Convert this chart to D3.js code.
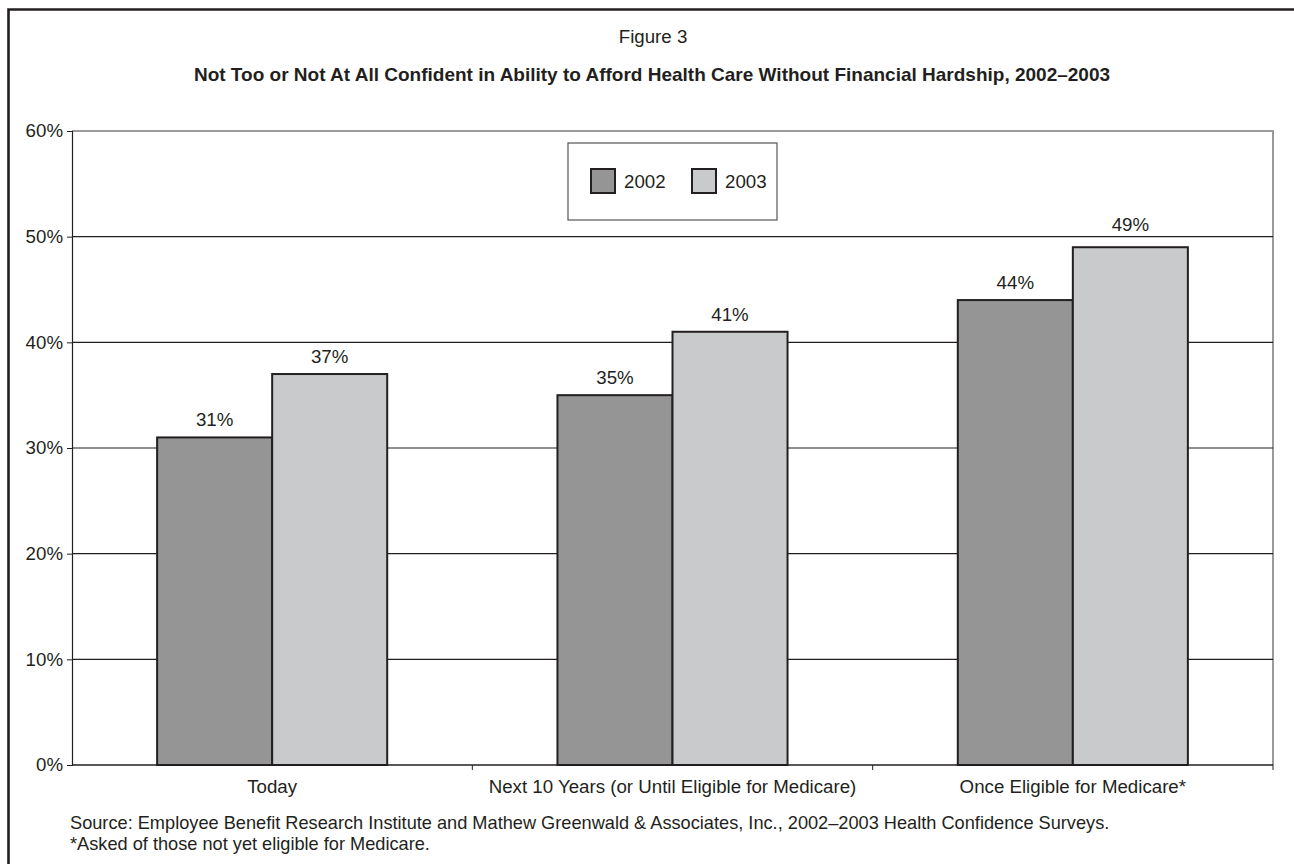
<!DOCTYPE html>
<html>
<head>
<meta charset="utf-8">
<script src="https://cdn.jsdelivr.net/npm/d3@7"></script>
<style>
  html, body { margin: 0; padding: 0; background: #fff; }
  svg { display: block; font-family: "Liberation Sans", Arial, Helvetica, sans-serif; }
</style>
</head>
<body>
<svg id="chart" width="1294" height="864"></svg>
<script>
// Survey data
const categories = ["Today", "Next 10 Years (or Until Eligible for Medicare)", "Once Eligible for Medicare*"];
const seriesNames = ["2002", "2003"];
const values2002 = [31, 35, 44];
const values2003 = [37, 41, 49];
const yTicks = [0, 10, 20, 30, 40, 50, 60];
const seriesColors = ["#959596", "#c9cacc"];

const figureLabel = "Figure 3";
const titleText = "Not Too or Not At All Confident in Ability to Afford Health Care Without Financial Hardship, 2002\u20132003";
const sourceLines = [
  "Source: Employee Benefit Research Institute and Mathew Greenwald & Associates, Inc., 2002\u20132003 Health Confidence Surveys.",
  "*Asked of those not yet eligible for Medicare."
];

const FS = 18.7;       // body text size
const ink = "#231f20";

const svg = d3.select("#chart");
const W = 1294, H = 864;
const plot = { left: 72, right: 1273, top: 131, bottom: 765 };

// Outer frame (runs off the right and bottom edges)
svg.append("path")
  .attr("d", `M8.5,${H + 5} V9.5 H${W + 5}`)
  .attr("fill", "none").attr("stroke", ink).attr("stroke-width", 2.6);

// Headings
svg.append("text").attr("x", 653).attr("y", 43).attr("text-anchor", "middle")
  .attr("font-size", FS).attr("fill", ink).text(figureLabel);
svg.append("text").attr("x", 652).attr("y", 81).attr("text-anchor", "middle")
  .attr("font-size", 19).attr("font-weight", "bold").attr("fill", ink).text(titleText);

// Scales
const x0 = d3.scaleBand().domain(categories).range([plot.left, plot.right]).paddingInner(0).paddingOuter(0);
const x1 = d3.scaleBand().domain(seriesNames).range([0, x0.bandwidth()]).paddingInner(0).paddingOuter(0.74);
const y = d3.scaleLinear().domain([0, 60]).range([plot.bottom, plot.top]);

// Plot frame: top and right edges in grey
svg.append("path")
  .attr("d", `M${plot.left},${y(60)} H${plot.right} V${plot.bottom}`)
  .attr("fill", "none").attr("stroke", "#9a9a9a").attr("stroke-width", 2);

// Gridlines
svg.append("g").selectAll("line").data(yTicks.filter(t => t > 0 && t < 60)).join("line")
  .attr("x1", plot.left).attr("x2", plot.right)
  .attr("y1", d => y(d)).attr("y2", d => y(d))
  .attr("stroke", ink).attr("stroke-width", 1.1);

// Y axis
const yAxis = svg.append("g").attr("transform", `translate(${plot.left},0)`)
  .call(d3.axisLeft(y).tickValues(yTicks).tickFormat(d => d + "%").tickSize(5).tickPadding(4));
yAxis.select(".domain").attr("stroke", ink).attr("stroke-width", 1.2);
yAxis.selectAll(".tick line").attr("stroke", ink);
yAxis.selectAll(".tick text").attr("font-size", FS).attr("fill", ink)
  .attr("font-family", "Liberation Sans, Arial, sans-serif");

// Bars
const rows = categories.map((c, i) => ({ cat: c, vals: [values2002[i], values2003[i]] }));
const groups = svg.append("g").selectAll("g").data(rows).join("g")
  .attr("transform", d => `translate(${x0(d.cat)},0)`);
groups.selectAll("rect").data(d => d.vals.map((v, j) => ({ s: seriesNames[j], v, j }))).join("rect")
  .attr("x", d => x1(d.s)).attr("width", x1.bandwidth())
  .attr("y", d => y(d.v)).attr("height", d => y(0) - y(d.v))
  .attr("fill", d => seriesColors[d.j]).attr("stroke", ink).attr("stroke-width", 2);

// Value labels, nudged above a gridline when they would sit on it
const gridVals = yTicks.map(t => y(t));
groups.selectAll("text.val").data(d => d.vals.map((v, j) => ({ s: seriesNames[j], v, j }))).join("text")
  .attr("class", "val")
  .attr("x", d => x1(d.s) + x1.bandwidth() / 2)
  .attr("y", d => {
    let base = y(d.v) - 11;
    for (const g of gridVals) {
      if (g > base - 14 && g < base + 4) base = g - 6;
    }
    return base;
  })
  .attr("text-anchor", "middle").attr("font-size", FS).attr("fill", ink)
  .text(d => d.v + "%");

// X axis
const xAxis = svg.append("g").attr("transform", `translate(0,${plot.bottom})`);
xAxis.append("line").attr("x1", plot.left).attr("x2", plot.right)
  .attr("stroke", ink).attr("stroke-width", 1.5);
const boundaries = categories.map(c => x0(c)).concat([plot.right]);
xAxis.selectAll("line.tk").data(boundaries.slice(1)).join("line").attr("class", "tk")
  .attr("x1", d => d).attr("x2", d => d).attr("y1", 0).attr("y2", 5)
  .attr("stroke", ink).attr("stroke-width", 1);
xAxis.selectAll("text").data(categories).join("text")
  .attr("x", d => x0(d) + x0.bandwidth() / 2).attr("y", 28)
  .attr("text-anchor", "middle").attr("font-size", FS).attr("fill", ink)
  .text(d => d);

// Legend
const legend = svg.append("g").attr("transform", "translate(568,143)");
legend.append("rect").attr("x", 0).attr("y", 0).attr("width", 209).attr("height", 77)
  .attr("fill", "#fff").attr("stroke", "#555").attr("stroke-width", 1.2);
const legendItems = legend.selectAll("g").data(seriesNames).join("g")
  .attr("transform", (d, i) => `translate(${23 + i * 101},26)`);
legendItems.append("rect").attr("width", 24).attr("height", 24)
  .attr("fill", (d, i) => seriesColors[i]).attr("stroke", ink).attr("stroke-width", 2);
legendItems.append("text").attr("x", 33).attr("y", 19).attr("font-size", FS).attr("fill", ink)
  .text(d => d);

// Source notes
svg.append("g").selectAll("text").data(sourceLines).join("text")
  .attr("x", 70).attr("y", (d, i) => 829 + i * 20.5)
  .attr("font-size", 18.2).attr("fill", ink).text(d => d);
</script>
</body>
</html>
